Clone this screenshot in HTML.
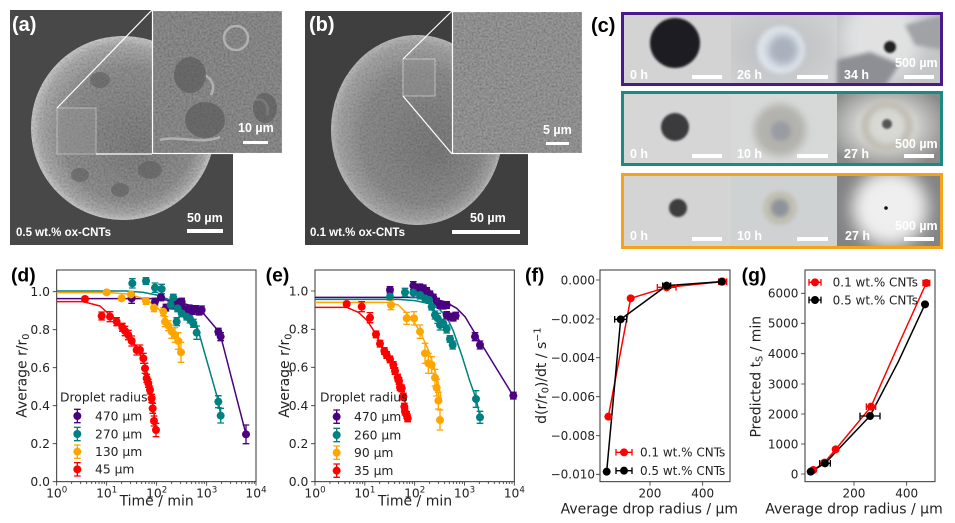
<!DOCTYPE html>
<html><head><meta charset="utf-8"><style>html,body{margin:0;padding:0;background:#fff}svg{display:block}</style></head>
<body>
<svg xmlns="http://www.w3.org/2000/svg" width="955" height="523" viewBox="0 0 955 523">
<defs>
<radialGradient id="sa" cx="0.5" cy="0.5" r="0.5" fx="0.6" fy="0.62">
<stop offset="0" stop-color="#5c5c5c"/><stop offset="0.72" stop-color="#747474"/><stop offset="0.92" stop-color="#9a9a9a"/><stop offset="1" stop-color="#c2c2c2"/></radialGradient>
<radialGradient id="sb" cx="0.5" cy="0.5" r="0.5" fx="0.62" fy="0.62">
<stop offset="0" stop-color="#5e5e5e"/><stop offset="0.7" stop-color="#747474"/><stop offset="0.93" stop-color="#959595"/><stop offset="1" stop-color="#b0b0b0"/></radialGradient>
<radialGradient id="g12" cx="0.45" cy="0.5" r="0.6"><stop offset="0" stop-color="#b4bac2"/><stop offset="0.5" stop-color="#c4c6c8"/><stop offset="1" stop-color="#cdcfd0"/></radialGradient>
<radialGradient id="g23" cx="0.47" cy="0.47" r="0.6"><stop offset="0" stop-color="#dcdcd8"/><stop offset="0.45" stop-color="#d2d2cf"/><stop offset="1" stop-color="#8a8a8a"/></radialGradient>
<filter id="nz" x="0" y="0" width="100%" height="100%"><feTurbulence type="fractalNoise" baseFrequency="0.5" numOctaves="2" seed="5"/><feColorMatrix type="matrix" values="1 0 0 0 0  1 0 0 0 0  1 0 0 0 0  0 0 0 0 0.4"/></filter>
<filter id="b1" x="-50%" y="-50%" width="200%" height="200%"><feGaussianBlur stdDeviation="1"/></filter>
<filter id="b2" x="-50%" y="-50%" width="200%" height="200%"><feGaussianBlur stdDeviation="2"/></filter>
<filter id="b4" x="-50%" y="-50%" width="200%" height="200%"><feGaussianBlur stdDeviation="4"/></filter>
<filter id="b8" x="-50%" y="-50%" width="200%" height="200%"><feGaussianBlur stdDeviation="8"/></filter>
<clipPath id="cA"><circle cx="123" cy="128" r="92"/></clipPath>
<clipPath id="cB"><ellipse cx="417" cy="130" rx="86" ry="95"/></clipPath>
<clipPath id="r1"><rect x="621" y="12" width="322" height="74"/></clipPath>
<clipPath id="r2"><rect x="621" y="91" width="322" height="75"/></clipPath>
<clipPath id="r3"><rect x="621" y="173" width="322" height="76"/></clipPath>
</defs>
<rect width="955" height="523" fill="#fff"/>

<!-- (a) SEM -->
<rect x="10" y="10" width="223" height="235" fill="#484848"/>
<circle cx="123" cy="128" r="92" fill="url(#sa)"/>
<rect x="31" y="36" width="184" height="184" filter="url(#nz)" clip-path="url(#cA)" opacity="0.7"/>
<g fill="#5a5a5a" opacity="0.55">
<ellipse cx="100" cy="80" rx="10" ry="8"/><ellipse cx="150" cy="170" rx="12" ry="9"/><ellipse cx="120" cy="190" rx="9" ry="7"/><ellipse cx="175" cy="120" rx="8" ry="10"/><ellipse cx="80" cy="175" rx="9" ry="7"/>
</g>
<rect x="57" y="108" width="39" height="46" fill="#9a9a9a" opacity="0.35" stroke="#fff" stroke-width="1.2"/>
<line x1="57" y1="108" x2="152" y2="10" stroke="#fff" stroke-width="1.2"/>
<line x1="96" y1="154" x2="152" y2="154" stroke="#fff" stroke-width="1.2"/>
<rect x="152" y="10" width="131" height="144" fill="#696969"/>
<rect x="152" y="10" width="131" height="144" filter="url(#nz)" opacity="0.8"/>
<g fill="none" stroke="#bdbdbd" stroke-width="2.5" opacity="0.8"><circle cx="236" cy="38" r="12"/><path d="M205 75c8 5 10 12 6 20M255 100c8-3 15 5 12 15M160 140c20-5 40 5 60-3"/></g>
<g fill="#555" opacity="0.6"><ellipse cx="190" cy="75" rx="16" ry="18"/><ellipse cx="205" cy="120" rx="20" ry="18"/><ellipse cx="265" cy="108" rx="12" ry="15"/></g>
<rect x="152.5" y="10.5" width="130" height="143" fill="none" stroke="#fff" stroke-width="1.2"/>
<g font-family="Liberation Sans, Arial, sans-serif" font-weight="bold" fill="#fff">
<text x="12" y="31" font-size="20">(a)</text>
<text x="238" y="132" font-size="12.5">10 µm</text>
<text x="187" y="222" font-size="12.5">50 µm</text>
<text x="16" y="236" font-size="11.5">0.5 wt.% ox-CNTs</text>
</g>
<rect x="243" y="141" width="25" height="3" fill="#fff"/>
<rect x="187" y="229" width="36" height="4" fill="#fff"/>

<!-- (b) SEM -->
<rect x="305" y="11" width="223" height="234" fill="#3f3f3f"/>
<ellipse cx="417" cy="130" rx="86" ry="95" fill="url(#sb)"/>
<rect x="331" y="35" width="172" height="190" filter="url(#nz)" clip-path="url(#cB)" opacity="0.6"/>
<rect x="403" y="59" width="32" height="37" fill="#959595" opacity="0.4" stroke="#fff" stroke-width="1.2"/>
<line x1="403" y1="59" x2="452" y2="11" stroke="#fff" stroke-width="1.2"/>
<line x1="403" y1="96" x2="452" y2="154" stroke="#fff" stroke-width="1.2"/>
<rect x="452" y="11" width="131" height="143" fill="#747474"/>
<rect x="452" y="11" width="131" height="143" filter="url(#nz)" opacity="0.9"/>
<rect x="452.5" y="11.5" width="130" height="142" fill="none" stroke="#fff" stroke-width="1.2"/>
<g font-family="Liberation Sans, Arial, sans-serif" font-weight="bold" fill="#fff">
<text x="309" y="31" font-size="20">(b)</text>
<text x="543" y="134" font-size="12.5">5 µm</text>
<text x="470" y="222" font-size="12.5">50 µm</text>
<text x="310" y="236" font-size="11.5">0.1 wt.% ox-CNTs</text>
</g>
<rect x="546" y="142" width="23" height="3" fill="#fff"/>
<rect x="452" y="230" width="68" height="4" fill="#fff"/>
<text x="591" y="32" font-family="Liberation Sans, Arial, sans-serif" font-weight="bold" font-size="20" fill="#000">(c)</text>

<!-- (c) photos -->
<g clip-path="url(#r1)">
<rect x="621" y="12" width="110" height="74" fill="#d3d3d3"/>
<rect x="731" y="12" width="106" height="74" fill="url(#g12)"/>
<rect x="837" y="12" width="106" height="74" fill="#c3c5c7"/>
<circle cx="675" cy="43" r="25" fill="#1f1b24" filter="url(#b1)"/>
<circle cx="781" cy="50" r="24" fill="#dde3ea" filter="url(#b2)"/>
<circle cx="783" cy="50" r="15" fill="#a9b1bd" filter="url(#b4)"/>
<circle cx="882" cy="38" r="40" fill="#eeeeee" opacity="0.7" filter="url(#b8)"/>
<polygon points="837,60 870,52 900,64 885,86 837,86" fill="#8d8f94" filter="url(#b2)"/>
<polygon points="905,25 943,15 943,50 915,45" fill="#a0a2a5" filter="url(#b2)"/>
<circle cx="890" cy="47" r="6" fill="#222" filter="url(#b1)"/>
</g>
<g clip-path="url(#r2)">
<rect x="621" y="91" width="110" height="75" fill="#d5d6d5"/>
<rect x="731" y="91" width="106" height="75" fill="#d7d9d8"/>
<rect x="837" y="91" width="106" height="75" fill="url(#g23)"/>
<circle cx="675" cy="127" r="14" fill="#3a3a3c" filter="url(#b1)"/>
<circle cx="780" cy="130" r="26" fill="#b3b2ad" filter="url(#b4)"/>
<circle cx="781" cy="131" r="10" fill="#9a9ca4" filter="url(#b2)"/>
<circle cx="887" cy="126" r="22" fill="none" stroke="#c2c0b6" stroke-width="8" filter="url(#b2)"/>
<circle cx="887" cy="124" r="5" fill="#555" filter="url(#b1)"/>
</g>
<g clip-path="url(#r3)">
<rect x="621" y="173" width="110" height="76" fill="#d4d4d4"/>
<rect x="731" y="173" width="106" height="76" fill="#cfd2d3"/>
<rect x="837" y="173" width="106" height="76" fill="#838383"/>
<circle cx="678" cy="208" r="9" fill="#3c3c3c" filter="url(#b1)"/>
<circle cx="780" cy="208" r="17" fill="#c0bfb2" filter="url(#b2)"/>
<circle cx="780" cy="208" r="9" fill="#8e939a" filter="url(#b2)"/>
<circle cx="890" cy="208" r="38" fill="#efefef" filter="url(#b8)"/>
<circle cx="886" cy="208" r="1.8" fill="#111"/>
</g>
<rect x="622.5" y="13.5" width="319" height="71" fill="none" stroke="#4b1a8a" stroke-width="3"/>
<rect x="622.5" y="92.5" width="319" height="72" fill="none" stroke="#1b8a84" stroke-width="3"/>
<rect x="622.5" y="174.5" width="319" height="73" fill="none" stroke="#f5a31a" stroke-width="3"/>
<g font-family="Liberation Sans, Arial, sans-serif" font-weight="bold" font-size="12.5" fill="#fff">
<text x="630" y="79">0 h</text><text x="737" y="79">26 h</text><text x="844" y="79">34 h</text><text x="895" y="67">500 µm</text>
<text x="630" y="158">0 h</text><text x="737" y="158">10 h</text><text x="844" y="158">27 h</text><text x="895" y="148">500 µm</text>
<text x="630" y="240">0 h</text><text x="737" y="240">10 h</text><text x="845" y="240">27 h</text><text x="895" y="230">500 µm</text>
</g>
<g fill="#fff">
<rect x="692" y="75" width="30" height="4"/><rect x="797" y="75" width="31" height="4"/><rect x="904" y="75" width="30" height="4"/>
<rect x="692" y="154" width="30" height="4"/><rect x="797" y="154" width="31" height="4"/><rect x="904" y="154" width="30" height="4"/>
<rect x="692" y="237" width="30" height="4"/><rect x="797" y="237" width="31" height="4"/><rect x="904" y="237" width="30" height="4"/>
</g>

<!-- (d) -->
<g transform="translate(0,255) scale(0.333333)" font-family="DejaVu Sans, Liberation Sans, sans-serif" fill="#222">
<text x="33" y="80" font-family="Liberation Sans, Arial, sans-serif" font-weight="bold" font-size="58" fill="#000">(d)</text>
<rect x="170" y="45" width="598" height="635" fill="none" stroke="#333" stroke-width="3"/>
<path stroke="#333" stroke-width="2.5" fill="none" d="M170 680h-12M170 566h-12M170 452h-12M170 338h-12M170 224h-12M170 110h-12M170 680v12M320 680v12M470 680v12M620 680v12M768 680v12M215 680v7M242 680v7M260 680v7M275 680v7M287 680v7M297 680v7M306 680v7M313 680v7M365 680v7M392 680v7M410 680v7M425 680v7M437 680v7M447 680v7M456 680v7M463 680v7M515 680v7M542 680v7M560 680v7M575 680v7M587 680v7M597 680v7M606 680v7M613 680v7M665 680v7M692 680v7M710 680v7M725 680v7M737 680v7M747 680v7M756 680v7M763 680v7"/>
<g font-size="37" text-anchor="end"><text x="150" y="693">0.0</text><text x="150" y="579">0.2</text><text x="150" y="465">0.4</text><text x="150" y="351">0.6</text><text x="150" y="237">0.8</text><text x="150" y="123">1.0</text></g>
<g font-size="37" text-anchor="middle"><text x="170" y="727">10<tspan dy="-15" font-size="26">0</tspan></text><text x="320" y="727">10<tspan dy="-15" font-size="26">1</tspan></text><text x="470" y="727">10<tspan dy="-15" font-size="26">2</tspan></text><text x="620" y="727">10<tspan dy="-15" font-size="26">3</tspan></text><text x="768" y="727">10<tspan dy="-15" font-size="26">4</tspan></text></g>
<text x="470" y="752" font-size="42" text-anchor="middle">Time / min</text>
<text transform="translate(80,362) rotate(-90)" font-size="42" text-anchor="middle">Average r/r<tspan font-size="29" dy="7">0</tspan></text>
<!-- lines -->
<g fill="none" stroke-width="4.5" stroke-linejoin="round">
<path stroke="#4B0082" d="M170 131H470L520 138L560 148L600 163L655 228L662 243L738 538"/>
<path stroke="#008080" d="M170 108H380L430 112L470 120L510 135L550 160L590 210L655 438L662 480"/>
<path stroke="#FFA500" d="M170 113H330L380 117L430 130L465 150L495 185L520 225L543 290"/>
<path stroke="#FF0000" d="M170 140H250L300 153L330 180L350 200L370 222L395 255L415 285L435 330L448 380L458 440L468 525"/>
</g>
<!-- errorbars -->
<g fill="none" stroke-width="4">
<path stroke="#4B0082" d="M395 115V145M385 115h20M385 145h20M465 130V150M455 130h20M455 150h20M483 117V137M473 117h20M473 137h20M498 148V168M488 148h20M488 168h20M520 138V162M510 138h20M510 162h20M535 132V152M525 132h20M525 152h20M545 130V150M535 130h20M535 150h20M550 150V174M540 150h20M540 174h20M560 158V182M550 158h20M550 182h20M568 150V170M558 150h20M558 170h20M577 158V178M567 158h20M567 178h20M587 152V172M577 152h20M577 172h20M597 160V180M587 160h20M587 180h20M605 153V177M595 153h20M595 177h20M655 220V240M645 220h20M645 240h20M662 233V257M652 233h20M652 257h20M738 510V566M728 510h20M728 566h20"/>
<path stroke="#008080" d="M397 71V99M387 71h20M387 99h20M438 68V88M428 68h20M428 88h20M465 84V112M455 84h20M455 112h20M485 88V116M475 88h20M475 116h20M512 140V160M502 140h20M502 160h20M520 118V138M510 118h20M510 138h20M530 188V212M520 188h20M520 212h20M533 150V170M523 150h20M523 170h20M545 165V185M535 165h20M535 185h20M560 175V195M550 175h20M550 195h20M570 180V204M560 180h20M560 204h20M580 193V217M570 193h20M570 217h20M590 213V253M580 213h20M580 253h20M655 422V458M645 422h20M645 458h20M662 460V504M652 460h20M652 504h20"/>
<path stroke="#FFA500" d="M320 106V118M310 106h20M310 118h20M365 124V136M355 124h20M355 136h20M393 112V124M383 112h20M383 124h20M438 128V148M428 128h20M428 148h20M462 146V170M452 146h20M452 170h20M490 158V182M480 158h20M480 182h20M495 185V215M485 185h20M485 215h20M505 197V227M495 197h20M495 227h20M515 210V250M505 210h20M505 250h20M525 218V262M515 218h20M515 262h20M535 233V283M525 233h20M525 283h20M543 262V322M533 262h20M533 322h20"/>
<path stroke="#FF0000" d="M255 126V138M245 126h20M245 138h20M305 171V195M295 171h20M295 195h20M330 170V200M320 170h20M320 200h20M350 188V212M340 188h20M340 212h20M367 205V229M357 205h20M357 229h20M375 214V242M365 214h20M365 242h20M385 226V254M375 226h20M375 254h20M395 243V273M385 243h20M385 273h20M410 270V300M400 270h20M400 300h20M420 270V300M410 270h20M410 300h20M430 295V325M420 295h20M420 325h20M435 325V355M425 325h20M425 355h20M440 358V382M430 358h20M430 382h20M445 373V397M435 373h20M435 397h20M450 393V417M440 393h20M440 417h20M455 418V442M445 418h20M445 442h20M458 445V475M448 445h20M448 475h20M462 483V513M452 483h20M452 513h20M468 505V545M458 505h20M458 545h20"/>
</g>
<!-- markers -->
<g fill="#4B0082"><circle cx="395" cy="130" r="12"/><circle cx="465" cy="140" r="12"/><circle cx="483" cy="127" r="12"/><circle cx="498" cy="158" r="12"/><circle cx="520" cy="150" r="12"/><circle cx="535" cy="142" r="12"/><circle cx="545" cy="140" r="12"/><circle cx="550" cy="162" r="12"/><circle cx="560" cy="170" r="12"/><circle cx="568" cy="160" r="12"/><circle cx="577" cy="168" r="12"/><circle cx="587" cy="162" r="12"/><circle cx="597" cy="170" r="12"/><circle cx="605" cy="165" r="12"/><circle cx="655" cy="230" r="12"/><circle cx="662" cy="245" r="12"/><circle cx="738" cy="538" r="12"/></g>
<g fill="#008080"><circle cx="397" cy="85" r="12"/><circle cx="438" cy="78" r="12"/><circle cx="465" cy="98" r="12"/><circle cx="485" cy="102" r="12"/><circle cx="512" cy="150" r="12"/><circle cx="520" cy="128" r="12"/><circle cx="530" cy="200" r="12"/><circle cx="533" cy="160" r="12"/><circle cx="545" cy="175" r="12"/><circle cx="560" cy="185" r="12"/><circle cx="570" cy="192" r="12"/><circle cx="580" cy="205" r="12"/><circle cx="590" cy="233" r="12"/><circle cx="655" cy="440" r="12"/><circle cx="662" cy="482" r="12"/></g>
<g fill="#FFA500"><circle cx="320" cy="112" r="12"/><circle cx="365" cy="130" r="12"/><circle cx="393" cy="118" r="12"/><circle cx="438" cy="138" r="12"/><circle cx="462" cy="158" r="12"/><circle cx="490" cy="170" r="12"/><circle cx="495" cy="200" r="12"/><circle cx="505" cy="212" r="12"/><circle cx="515" cy="230" r="12"/><circle cx="525" cy="240" r="12"/><circle cx="535" cy="258" r="12"/><circle cx="543" cy="292" r="12"/></g>
<g fill="#FF0000"><circle cx="255" cy="132" r="12"/><circle cx="305" cy="183" r="12"/><circle cx="330" cy="185" r="12"/><circle cx="350" cy="200" r="12"/><circle cx="367" cy="217" r="12"/><circle cx="375" cy="228" r="12"/><circle cx="385" cy="240" r="12"/><circle cx="395" cy="258" r="12"/><circle cx="410" cy="285" r="12"/><circle cx="420" cy="285" r="12"/><circle cx="430" cy="310" r="12"/><circle cx="435" cy="340" r="12"/><circle cx="440" cy="370" r="12"/><circle cx="445" cy="385" r="12"/><circle cx="450" cy="405" r="12"/><circle cx="455" cy="430" r="12"/><circle cx="458" cy="460" r="12"/><circle cx="462" cy="498" r="12"/><circle cx="468" cy="525" r="12"/></g>
<!-- legend -->
<text x="180" y="440" font-size="37">Droplet radius</text>
<g fill="none" stroke-width="4"><path stroke="#4B0082" d="M232 463V503M222 463h20M222 503h20"/><path stroke="#008080" d="M232 517V557M222 517h20M222 557h20"/><path stroke="#FFA500" d="M232 570V610M222 570h20M222 610h20"/><path stroke="#FF0000" d="M232 623V663M222 623h20M222 663h20"/></g>
<circle cx="232" cy="483" r="12" fill="#4B0082"/><circle cx="232" cy="537" r="12" fill="#008080"/><circle cx="232" cy="590" r="12" fill="#FFA500"/><circle cx="232" cy="643" r="12" fill="#FF0000"/>
<g font-size="37"><text x="285" y="496">470 µm</text><text x="285" y="550">270 µm</text><text x="285" y="603">130 µm</text><text x="285" y="656">45 µm</text></g>
</g>

<!-- (e) -->
<g transform="translate(265,255) scale(0.333333)" font-family="DejaVu Sans, Liberation Sans, sans-serif" fill="#222">
<text x="2" y="80" font-family="Liberation Sans, Arial, sans-serif" font-weight="bold" font-size="58" fill="#000">(e)</text>
<rect x="150" y="45" width="598" height="635" fill="none" stroke="#333" stroke-width="3"/>
<path stroke="#333" stroke-width="2.5" fill="none" d="M150 680h-12M150 566h-12M150 452h-12M150 337h-12M150 223h-12M150 108h-12M150 680v12M299.5 680v12M449 680v12M598.5 680v12M748 680v12M195 680v7M221 680v7M240 680v7M254 680v7M266 680v7M276 680v7M285 680v7M293 680v7M344 680v7M371 680v7M389 680v7M404 680v7M416 680v7M426 680v7M434 680v7M442 680v7M494 680v7M520 680v7M539 680v7M553 680v7M565 680v7M575 680v7M584 680v7M592 680v7M643 680v7M670 680v7M688 680v7M703 680v7M715 680v7M725 680v7M733 680v7M741 680v7"/>
<g font-size="37" text-anchor="end"><text x="130" y="693">0.0</text><text x="130" y="579">0.2</text><text x="130" y="465">0.4</text><text x="130" y="350">0.6</text><text x="130" y="236">0.8</text><text x="130" y="121">1.0</text></g>
<g font-size="37" text-anchor="middle"><text x="150" y="727">10<tspan dy="-15" font-size="26">0</tspan></text><text x="299.5" y="727">10<tspan dy="-15" font-size="26">1</tspan></text><text x="449" y="727">10<tspan dy="-15" font-size="26">2</tspan></text><text x="598.5" y="727">10<tspan dy="-15" font-size="26">3</tspan></text><text x="748" y="727">10<tspan dy="-15" font-size="26">4</tspan></text></g>
<text x="450" y="752" font-size="42" text-anchor="middle">Time / min</text>
<text transform="translate(72,362) rotate(-90)" font-size="42" text-anchor="middle">Average r/r<tspan font-size="29" dy="7">0</tspan></text>
<g fill="none" stroke-width="4.5" stroke-linejoin="round">
<path stroke="#4B0082" d="M150 127H450L500 130L540 140L575 160L600 185L630 235L650 268L745 423"/>
<path stroke="#008080" d="M150 133H400L450 137L490 145L520 160L545 185L565 228L590 300L615 380L633 430L645 485"/>
<path stroke="#FFA500" d="M150 142H370L400 150L425 175L450 205L470 240L490 285L505 330L520 385L530 440"/>
<path stroke="#FF0000" d="M150 157H245L280 172L305 195L325 225L345 262L365 300L385 340L400 375L412 405L420 440L428 490"/>
</g>
<g fill="none" stroke-width="4">
<path stroke="#4B0082" d="M375 95V115M365 95h20M365 115h20M445 80V104M435 80h20M435 104h20M455 90V110M445 90h20M445 110h20M465 87V107M455 87h20M455 107h20M475 90V110M465 90h20M465 110h20M485 98V118M475 98h20M475 118h20M495 108V128M485 108h20M485 128h20M505 118V138M495 118h20M495 138h20M515 130V150M505 130h20M505 150h20M525 140V160M515 140h20M515 160h20M535 142V162M525 142h20M525 162h20M545 140V160M535 140h20M535 160h20M545 170V190M535 170h20M535 190h20M555 175V195M545 175h20M545 195h20M565 178V198M555 178h20M555 198h20M572 172V192M562 172h20M562 192h20M630 233V257M620 233h20M620 257h20M645 258V282M635 258h20M635 282h20M745 412V432M735 412h20M735 432h20"/>
<path stroke="#008080" d="M375 115V135M365 115h20M365 135h20M420 100V124M410 100h20M410 124h20M445 98V128M435 98h20M435 128h20M465 108V132M455 108h20M455 132h20M480 120V140M470 120h20M470 140h20M492 125V145M482 125h20M482 145h20M500 145V165M490 145h20M490 165h20M510 168V192M500 168h20M500 192h20M518 175V205M508 175h20M508 205h20M525 195V225M515 195h20M515 225h20M535 193V217M525 193h20M525 217h20M545 210V234M535 210h20M535 234h20M555 242V262M545 242h20M545 262h20M563 258V282M553 258h20M553 282h20M633 407V457M623 407h20M623 457h20M645 469V505M635 469h20M635 505h20"/>
<path stroke="#FFA500" d="M378 136V164M368 136h20M368 164h20M425 172V208M415 172h20M415 208h20M447 170V210M437 170h20M437 210h20M465 210V250M455 210h20M455 250h20M480 265V325M470 265h20M470 325h20M490 295V355M480 295h20M480 355h20M500 305V355M490 305h20M490 355h20M510 343V393M500 343h20M500 393h20M515 373V423M505 373h20M505 423h20M520 412V462M510 412h20M510 462h20M525 465V525M515 465h20M515 525h20"/>
<path stroke="#FF0000" d="M245 141V153M235 141h20M235 153h20M290 140V170M280 140h20M280 170h20M315 173V203M305 173h20M305 203h20M333 228V248M323 228h20M323 248h20M345 256V276M335 256h20M335 276h20M358 278V298M348 278h20M348 298h20M365 290V310M355 290h20M355 310h20M375 303V323M365 303h20M365 323h20M385 320V340M375 320h20M375 340h20M390 338V358M380 338h20M380 358h20M398 358V378M388 358h20M388 378h20M402 368V388M392 368h20M392 388h20M405 387V407M395 387h20M395 407h20M410 390V410M400 390h20M400 410h20M415 415V435M405 415h20M405 435h20M418 445V465M408 445h20M408 465h20M420 460V480M410 460h20M410 480h20M425 470V490M415 470h20M415 490h20M428 480V500M418 480h20M418 500h20"/>
</g>
<g fill="#4B0082"><circle cx="375" cy="105" r="12"/><circle cx="445" cy="92" r="12"/><circle cx="455" cy="100" r="12"/><circle cx="465" cy="97" r="12"/><circle cx="475" cy="100" r="12"/><circle cx="485" cy="108" r="12"/><circle cx="495" cy="118" r="12"/><circle cx="505" cy="128" r="12"/><circle cx="515" cy="140" r="12"/><circle cx="525" cy="150" r="12"/><circle cx="535" cy="152" r="12"/><circle cx="545" cy="150" r="12"/><circle cx="545" cy="180" r="12"/><circle cx="555" cy="185" r="12"/><circle cx="565" cy="188" r="12"/><circle cx="572" cy="182" r="12"/><circle cx="630" cy="245" r="12"/><circle cx="645" cy="270" r="12"/><circle cx="745" cy="422" r="12"/></g>
<g fill="#008080"><circle cx="375" cy="125" r="12"/><circle cx="420" cy="112" r="12"/><circle cx="445" cy="113" r="12"/><circle cx="465" cy="120" r="12"/><circle cx="480" cy="130" r="12"/><circle cx="492" cy="135" r="12"/><circle cx="500" cy="155" r="12"/><circle cx="510" cy="180" r="12"/><circle cx="518" cy="190" r="12"/><circle cx="525" cy="210" r="12"/><circle cx="535" cy="205" r="12"/><circle cx="545" cy="222" r="12"/><circle cx="555" cy="252" r="12"/><circle cx="563" cy="270" r="12"/><circle cx="633" cy="432" r="12"/><circle cx="645" cy="487" r="12"/></g>
<g fill="#FFA500"><circle cx="378" cy="150" r="12"/><circle cx="425" cy="190" r="12"/><circle cx="447" cy="190" r="12"/><circle cx="465" cy="230" r="12"/><circle cx="480" cy="295" r="12"/><circle cx="490" cy="325" r="12"/><circle cx="500" cy="330" r="12"/><circle cx="510" cy="368" r="12"/><circle cx="515" cy="398" r="12"/><circle cx="520" cy="437" r="12"/><circle cx="525" cy="495" r="12"/></g>
<g fill="#FF0000"><circle cx="245" cy="147" r="12"/><circle cx="290" cy="155" r="12"/><circle cx="315" cy="188" r="12"/><circle cx="333" cy="238" r="12"/><circle cx="345" cy="266" r="12"/><circle cx="358" cy="288" r="12"/><circle cx="365" cy="300" r="12"/><circle cx="375" cy="313" r="12"/><circle cx="385" cy="330" r="12"/><circle cx="390" cy="348" r="12"/><circle cx="398" cy="368" r="12"/><circle cx="402" cy="378" r="12"/><circle cx="405" cy="397" r="12"/><circle cx="410" cy="400" r="12"/><circle cx="415" cy="425" r="12"/><circle cx="418" cy="455" r="12"/><circle cx="420" cy="470" r="12"/><circle cx="425" cy="480" r="12"/><circle cx="428" cy="490" r="12"/></g>
<text x="165" y="440" font-size="37">Droplet radius</text>
<g fill="none" stroke-width="4"><path stroke="#4B0082" d="M215 465V505M205 465h20M205 505h20"/><path stroke="#008080" d="M215 520V560M205 520h20M205 560h20"/><path stroke="#FFA500" d="M215 573V613M205 573h20M205 613h20"/><path stroke="#FF0000" d="M215 627V667M205 627h20M205 667h20"/></g>
<circle cx="215" cy="485" r="12" fill="#4B0082"/><circle cx="215" cy="540" r="12" fill="#008080"/><circle cx="215" cy="593" r="12" fill="#FFA500"/><circle cx="215" cy="647" r="12" fill="#FF0000"/>
<g font-size="37"><text x="267" y="498">470 µm</text><text x="267" y="553">260 µm</text><text x="267" y="606">90 µm</text><text x="267" y="660">35 µm</text></g>
</g>

<!-- (f) -->
<g transform="translate(530,255) scale(0.333333)" font-family="DejaVu Sans, Liberation Sans, sans-serif" fill="#222">
<text x="-15" y="80" font-family="Liberation Sans, Arial, sans-serif" font-weight="bold" font-size="58" fill="#000">(f)</text>
<rect x="210" y="45" width="390" height="635" fill="none" stroke="#333" stroke-width="3"/>
<path stroke="#333" stroke-width="2.5" fill="none" d="M210 75h-12M210 192h-12M210 308h-12M210 425h-12M210 542h-12M210 658h-12M360 680v12M518 680v12"/>
<g font-size="36" text-anchor="end"><text x="195" y="88">0.000</text><text x="195" y="205">−0.002</text><text x="195" y="321">−0.004</text><text x="195" y="438">−0.006</text><text x="195" y="555">−0.008</text><text x="195" y="671">−0.010</text></g>
<g font-size="36" text-anchor="middle"><text x="360" y="727">200</text><text x="518" y="727">400</text></g>
<text x="358" y="775" font-size="42" text-anchor="middle">Average drop radius / µm</text>
<text transform="translate(48,362) rotate(-90)" font-size="42" text-anchor="middle">d(r/r<tspan font-size="29" dy="7">0</tspan><tspan dy="-7">)/dt / s</tspan><tspan font-size="29" dy="-16">−1</tspan></text>
<g fill="none" stroke-width="4.5" stroke-linejoin="round">
<path stroke="#FF0000" d="M235 485L302 130L410 97L578 80"/>
<path stroke="#000" d="M230 650L272 193L410 92L575 80"/>
</g>
<g fill="none" stroke-width="4">
<path stroke="#FF0000" d="M382 97H438M382 87v20M438 87v20M566 80H590M566 70v20M590 70v20M296 130H308"/>
<path stroke="#000" d="M254 193H290M254 183v20M290 183v20M398 92H422M398 82v20M422 82v20M567 80H583"/>
</g>
<g fill="#FF0000"><circle cx="235" cy="485" r="12"/><circle cx="302" cy="130" r="12"/><circle cx="410" cy="97" r="12"/><circle cx="578" cy="80" r="12"/></g>
<g fill="#000"><circle cx="230" cy="650" r="12"/><circle cx="272" cy="193" r="12"/><circle cx="410" cy="92" r="12"/><circle cx="575" cy="80" r="12"/></g>
<g fill="none" stroke-width="4"><path stroke="#FF0000" d="M258 592H306M258 582v20M306 582v20"/><path stroke="#000" d="M258 647H306M258 637v20M306 637v20"/></g>
<circle cx="282" cy="592" r="12" fill="#FF0000"/><circle cx="282" cy="647" r="12" fill="#000"/>
<g font-size="36"><text x="330" y="605">0.1 wt.% CNTs</text><text x="330" y="660">0.5 wt.% CNTs</text></g>
</g>

<!-- (g) -->
<g transform="translate(735,255) scale(0.333333)" font-family="DejaVu Sans, Liberation Sans, sans-serif" fill="#222">
<text x="20" y="80" font-family="Liberation Sans, Arial, sans-serif" font-weight="bold" font-size="58" fill="#000">(g)</text>
<rect x="210" y="45" width="390" height="635" fill="none" stroke="#333" stroke-width="3"/>
<path stroke="#333" stroke-width="2.5" fill="none" d="M210 657h-12M210 567h-12M210 477h-12M210 387h-12M210 296h-12M210 205h-12M210 115h-12M357 680v12M515 680v12"/>
<g font-size="36" text-anchor="end"><text x="190" y="670">0</text><text x="190" y="580">1000</text><text x="190" y="490">2000</text><text x="190" y="400">3000</text><text x="190" y="309">4000</text><text x="190" y="218">5000</text><text x="190" y="128">6000</text></g>
<g font-size="36" text-anchor="middle"><text x="357" y="727">200</text><text x="515" y="727">400</text></g>
<text x="357" y="775" font-size="42" text-anchor="middle">Average drop radius / µm</text>
<text transform="translate(76,365) rotate(-90)" font-size="42" text-anchor="middle">Predicted t<tspan font-size="29" dy="7">S</tspan><tspan dy="-7"> / min</tspan></text>
<g fill="none" stroke-width="4.5" stroke-linejoin="round">
<path stroke="#FF0000" d="M235 645L268 623L302 583L408 455L490 270L574 84"/>
<path stroke="#000" d="M227 650L270 625L405 483L490 320L570 148"/>
</g>
<g fill="none" stroke-width="4">
<path stroke="#FF0000" d="M394 455H422M394 445v20M422 445v20M564 84H584M564 74v20M584 74v20M227 645H243M260 623H276"/>
<path stroke="#000" d="M375 483H435M375 473v20M435 473v20M254 625H286M254 615v20M286 615v20"/>
</g>
<g fill="#FF0000"><circle cx="235" cy="645" r="12"/><circle cx="268" cy="623" r="12"/><circle cx="302" cy="583" r="12"/><circle cx="408" cy="455" r="12"/><circle cx="574" cy="84" r="12"/></g>
<g fill="#000"><circle cx="227" cy="650" r="12"/><circle cx="270" cy="625" r="12"/><circle cx="405" cy="483" r="12"/><circle cx="570" cy="148" r="12"/></g>
<g fill="none" stroke-width="4"><path stroke="#FF0000" d="M222 82H258M222 72v20M258 72v20"/><path stroke="#000" d="M222 135H258M222 125v20M258 125v20"/></g>
<circle cx="240" cy="82" r="12" fill="#FF0000"/><circle cx="240" cy="135" r="12" fill="#000"/>
<g font-size="36"><text x="293" y="95">0.1 wt.% CNTs</text><text x="293" y="148">0.5 wt.% CNTs</text></g>
</g>
</svg>
</body></html>
